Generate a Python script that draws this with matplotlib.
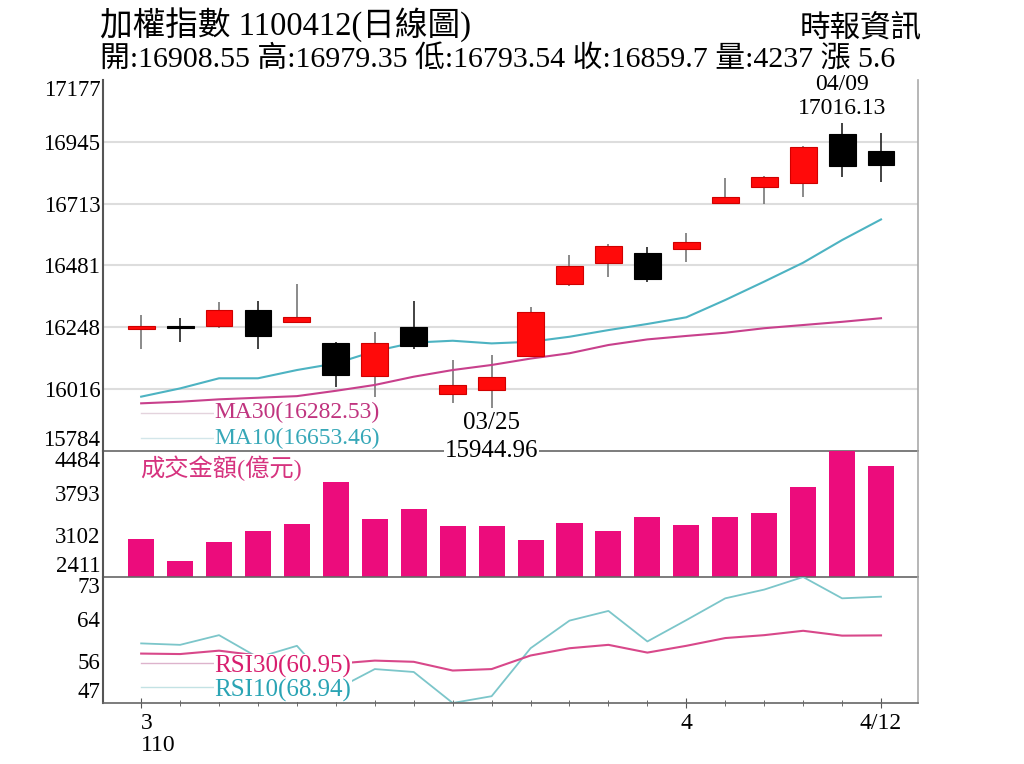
import numpy as np
import matplotlib
matplotlib.use('Agg')
from matplotlib import pyplot as plt

plt.rcParams['font.family'] = ['Liberation Serif', 'Noto Sans CJK TC', 'DejaVu Sans']

# daily data 110/03/12 - 110/04/12
dates = ['03/12', '03/15', '03/16', '03/17', '03/18', '03/19', '03/22', '03/23', '03/24', '03/25',
         '03/26', '03/29', '03/30', '03/31', '04/01', '04/06', '04/07', '04/08', '04/09', '04/12']
opens = [16243, 16250, 16254, 16313, 16267, 16188, 16066, 16248, 15998, 16013,
         16141, 16411, 16491, 16528, 16541, 16714, 16774, 16789, 16974, 16908.55]
closes = [16254, 16247, 16313, 16217, 16288, 16069, 16188, 16178, 16032, 16061,
          16307, 16478, 16555, 16430, 16570, 16739, 16814, 16924, 16854.1, 16859.7]
highs = [16294, 16282, 16344, 16348, 16411, 16195, 16232, 16348, 16126, 16144,
         16323, 16520, 16562, 16551, 16603, 16808, 16818, 16930, 17016.13, 16979.35]
lows = [16167, 16194, 16245, 16166, 16265, 16025, 15988, 16166, 15965, 15944.96,
        16138, 16405, 16438, 16420, 16495, 16712, 16711, 16736, 16814, 16793.54]
ma10 = [15988, 16019, 16057, 16057, 16088, 16113, 16159, 16191, 16198, 16188,
        16194, 16213, 16238, 16261, 16286, 16351, 16420, 16491, 16576, 16653.46]
ma30 = [15963, 15969, 15978, 15984, 15990, 16010, 16032, 16063, 16088, 16107,
        16131, 16151, 16182, 16203, 16216, 16228, 16245, 16257, 16269, 16282.53]
volume = [3031, 2679, 2992, 3168, 3283, 3979, 3370, 3530, 3255, 3250,
          3015, 3294, 3163, 3393, 3266, 3398, 3459, 3896, 4484, 4237]
rsi10 = [59.3, 59.0, 61.0, 56.4, 58.8, 49.8, 54.0, 53.4, 47.0, 48.4,
         58.3, 64.0, 66.0, 59.7, 64.1, 68.6, 70.4, 73.0, 68.6, 68.94]
rsi30 = [57.2, 57.1, 57.8, 56.8, 56.0, 55.1, 55.75, 55.5, 53.7, 54.0,
         56.8, 58.3, 59.0, 57.4, 58.8, 60.4, 61.0, 61.9, 60.9, 60.95]

price_ticks = [15784, 16016, 16248, 16481, 16713, 16945, 17177]
vol_ticks = [2411, 3102, 3793, 4484]
rsi_lim = (47, 73)
rsi_ticks = [47, 55.67, 64.33, 73]
rsi_labels = ['47', '56', '64', '73']
xtick_pos = [0, 14, 19]
xtick_labels = ['3\n110', '4', '4/12']

x = np.arange(len(dates))
o = np.array(opens); c = np.array(closes)

# layout in pixels of a 1024x764 picture
W_PX, H_PX = 1024, 764
left, right = 103, 918
def rect(top, bottom):
    return [left / W_PX, 1 - bottom / H_PX, (right - left) / W_PX, (bottom - top) / H_PX]

fig = plt.figure(figsize=(10.24, 7.64), dpi=100)
ax_p = fig.add_axes(rect(80, 451))
ax_v = fig.add_axes(rect(451, 577), sharex=ax_p)
ax_r = fig.add_axes(rect(577, 703), sharex=ax_p)

edge_dark = '#555555'
for ax in (ax_p, ax_v, ax_r):
    ax.spines['top'].set_visible(False)
    ax.spines['left'].set_color(edge_dark)
    ax.spines['left'].set_linewidth(1.5)
    ax.spines['right'].set_color('#AAAAAA')
    ax.spines['right'].set_linewidth(1.2)
    ax.spines['bottom'].set_color('#666666')
    ax.spines['bottom'].set_linewidth(1.2)
    ax.tick_params(axis='y', length=0, pad=2, labelsize=16.5)
ax_v.patch.set_visible(False)
ax_r.patch.set_visible(False)

# ---- price panel
ax_p.set_xlim(-0.98, 19.95)
ax_p.set_ylim(price_ticks[0], price_ticks[-1])
ax_p.set_yticks(price_ticks, [str(t) for t in price_ticks])
for t in price_ticks[1:-1]:
    ax_p.axhline(t, color='#DDDDDD', lw=1.5, zorder=0)
up = c >= o
body_col = np.where(up, '#FF0A0A', '#000000')
edge_col = np.where(up, '#D00000', '#000000')
wick_col = np.where(up, '#777777', '#222222')
ax_p.vlines(x, lows, highs, colors=wick_col, lw=1.2, zorder=2)
ax_p.bar(x, np.maximum(np.abs(c - o), 5), bottom=np.minimum(o, c), width=0.69,
         color=body_col, edgecolor=edge_col, lw=0.8, zorder=3)
ax_p.plot(x, ma10, color='#4DB3C2', lw=1.5, zorder=2.5)
ax_p.plot(x, ma30, color='#C8408C', lw=1.5, zorder=2.5)

# legend of moving averages
ax_p.plot([0, 1.9], [price_ticks[0] + 143, price_ticks[0] + 143], color='#E4D3DD', lw=1, zorder=1)
ax_p.plot([0, 1.9], [price_ticks[0] + 48, price_ticks[0] + 48], color='#D3E6EA', lw=1, zorder=1)
ax_p.text(0.137, 0.105, f'MA30({ma30[-1]:.2f})', transform=ax_p.transAxes, fontsize=17,
          color='#C0347F', va='center', ha='left',
          bbox=dict(facecolor='white', edgecolor='none', pad=0.5), zorder=5)
ax_p.text(0.137, 0.035, f'MA10({ma10[-1]:.2f})', transform=ax_p.transAxes, fontsize=17,
          color='#37A8B8', va='center', ha='left',
          bbox=dict(facecolor='white', edgecolor='none', pad=0.5), zorder=5, clip_on=False)

# high / low marks
ih = int(np.argmax(highs)); il = int(np.argmin(lows))
ax_p.annotate(f'{highs[ih]:.2f}', xy=(ih, highs[ih]), xytext=(0, 3), textcoords='offset points',
              ha='center', va='bottom', fontsize=17)
ax_p.annotate(dates[ih], xy=(ih, highs[ih]), xytext=(0, 20), textcoords='offset points',
              ha='center', va='bottom', fontsize=17)
ax_p.annotate(dates[il], xy=(il, lows[il]), xytext=(0, -3), textcoords='offset points',
              ha='center', va='top', fontsize=18, zorder=6)
ax_p.annotate(f'{lows[il]:.2f}', xy=(il, lows[il]), xytext=(0, -23), textcoords='offset points',
              ha='center', va='top', fontsize=18, zorder=6,
              bbox=dict(facecolor='white', edgecolor='none', pad=0.5))
ax_p.tick_params(axis='x', which='both', bottom=False, labelbottom=False)

# ---- volume panel
ax_v.bar(x, volume, width=0.67, color='#EC0C7C', zorder=2)
ax_v.set_ylim(vol_ticks[0], vol_ticks[-1])
ax_v.set_yticks(vol_ticks, [str(t) for t in vol_ticks])
ax_v.text(0.045, 0.865, '成交金額(億元)', transform=ax_v.transAxes, fontsize=17.5,
          color='#D6337F', va='center', ha='left')
ax_v.tick_params(axis='x', which='both', bottom=False, labelbottom=False)

# ---- RSI panel
ax_r.plot(x, rsi10, color='#7CC6CA', lw=1.3, zorder=2)
ax_r.plot(x, rsi30, color='#D8488A', lw=1.5, zorder=2)
ax_r.set_ylim(*rsi_lim)
ax_r.set_yticks(rsi_ticks, rsi_labels)
ax_r.plot([0, 1.9], [55.2, 55.2], color='#DDB3CC', lw=1, zorder=1)
ax_r.plot([0, 1.9], [50.3, 50.3], color='#C3E2E4', lw=1, zorder=1)
ax_r.text(0.137, 0.294, f'RSI30({rsi30[-1]:.2f})', transform=ax_r.transAxes, fontsize=18,
          color='#D81E6E', va='center', ha='left',
          bbox=dict(facecolor='white', edgecolor='none', pad=0.5), zorder=5)
ax_r.text(0.137, 0.103, f'RSI10({rsi10[-1]:.2f})', transform=ax_r.transAxes, fontsize=18,
          color='#2AA4B4', va='center', ha='left',
          bbox=dict(facecolor='white', edgecolor='none', pad=0.5), zorder=5)

ax_r.set_xticks(x, minor=True)
ax_r.set_xticks(xtick_pos, xtick_labels)
ax_r.tick_params(axis='x', which='minor', direction='inout', length=4, color=edge_dark)
ax_r.tick_params(axis='x', which='major', direction='inout', length=7, color=edge_dark,
                 labelsize=17, pad=4)
xl = ax_r.get_xticklabels()
xl[0].set_ha('left')
xl[0].set_multialignment('left')
xl[0].set_linespacing(1.05)

# extreme y labels sit inside the panel
for ax in (ax_p, ax_v, ax_r):
    labs = ax.get_yticklabels()
    labs[0].set_va('bottom')
    labs[-1].set_va('top')

# header
fig.text(100 / W_PX, 1 - 25 / H_PX, '加權指數 1100412(日線圖)', fontsize=23.5, va='center', ha='left')
fig.text(922 / W_PX, 1 - 30 / H_PX, '時報資訊', fontsize=22, va='center', ha='right')
fig.text(100 / W_PX, 1 - 59 / H_PX,
         f'開:{opens[-1]} 高:{highs[-1]} 低:{lows[-1]} 收:{closes[-1]} 量:{volume[-1]} 漲 5.6',
         fontsize=21.5, va='center', ha='left')

fig.savefig('out.png', dpi=100)
